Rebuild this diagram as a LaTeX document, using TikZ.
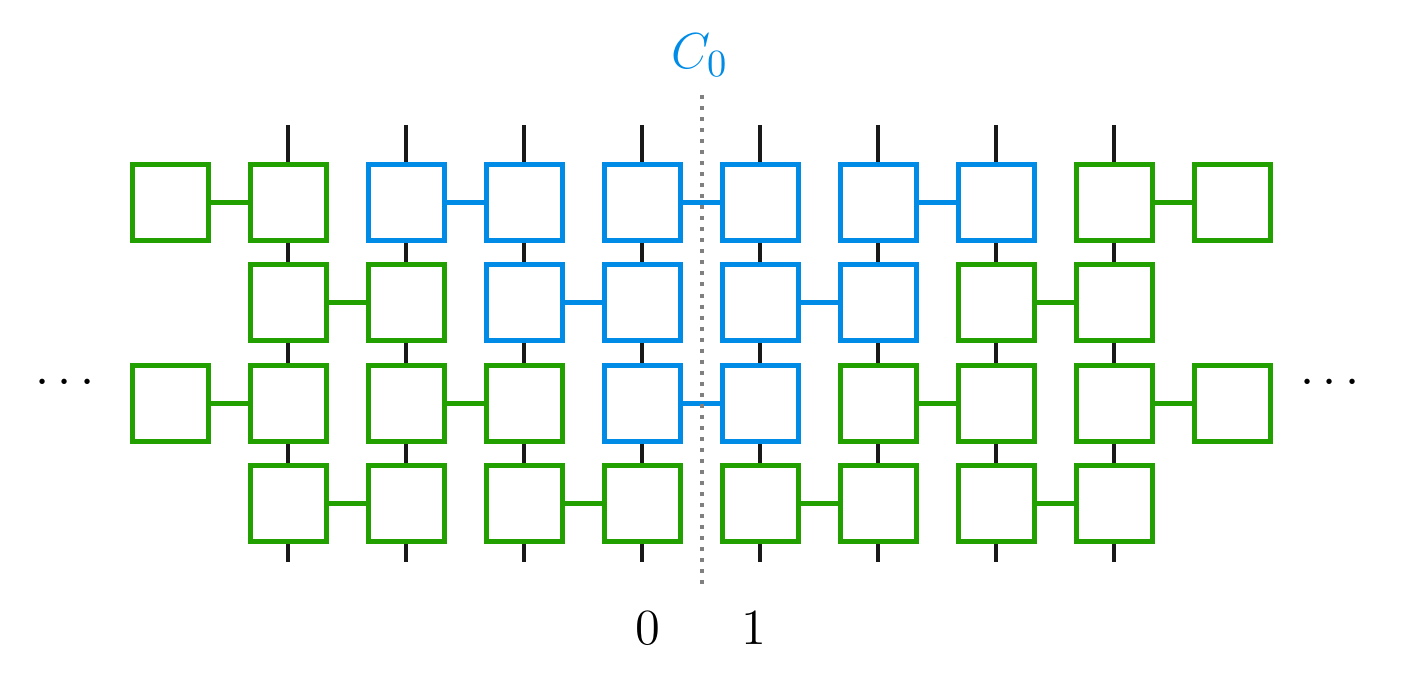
\documentclass[tikz,border=0pt]{standalone}
\usepackage{tikz}
\definecolor{grn}{RGB}{34,160,0}
\definecolor{blu}{RGB}{0,140,230}
\tikzset{
  site/.style={draw=#1, fill=white, line width=0.05cm, minimum size=0.76cm, inner sep=0pt},
  bond/.style={draw=#1, line width=0.05cm},
  leg/.style={line width=0.045cm, black!90},
}
\begin{document}
\begin{tikzpicture}[font=\fontsize{15}{18}\selectfont]
  \useasboundingbox (0,0) rectangle (14.05,-6.76);

  % Add legs
  \foreach \c in {1,...,8}
    \draw[leg] (1.70+1.18*\c, -1.25) -- (1.70+1.18*\c, -5.62);

  % Rows of sites, in pairs: row/first column/colour
  \foreach \r/\a/\col in {1/0/grn,1/2/blu,1/4/blu,1/6/blu,1/8/grn,
                          2/1/grn,2/3/blu,2/5/blu,2/7/grn,
                          3/0/grn,3/2/grn,3/4/blu,3/6/grn,3/8/grn,
                          4/1/grn,4/3/grn,4/5/grn,4/7/grn}{
    \pgfmathtruncatemacro\b{\a+1}
    \node[site=\col] (s\r-\a) at (1.70+1.18*\a, -1.02-1.005*\r) {};
    \node[site=\col] (s\r-\b) at (1.70+1.18*\b, -1.02-1.005*\r) {};
    \draw[bond=\col] (s\r-\a.east) -- (s\r-\b.west);
  }

  % Cut
  \draw[gray, line width=0.04cm, dotted] (7.02,-0.95) -- (7.02,-5.88);
  \node[blu] (cut) at (7.00,-0.55) {$C_0$};
  \node (l0) at (6.48,-6.28) {$0$};
  \node (l1) at (7.54,-6.28) {$1$};

  % Dots
  \node (dl) at (0.65,-3.83) {$\cdots$};
  \node (dr) at (13.30,-3.83) {$\cdots$};
\end{tikzpicture}
\end{document}
